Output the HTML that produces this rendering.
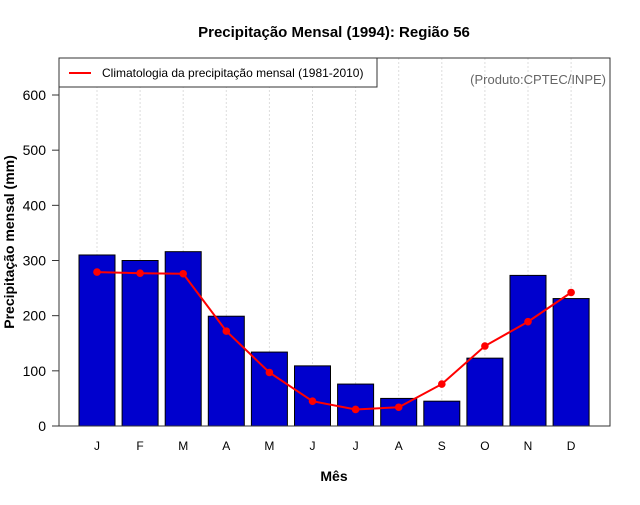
<!DOCTYPE html>
<html><head><meta charset="utf-8"><style>
body{margin:0;background:#fff;font-family:"Liberation Sans",sans-serif}
</style></head><body>
<svg id="c" width="640" height="500" xmlns="http://www.w3.org/2000/svg" font-family="Liberation Sans, sans-serif">
<text x="334" y="37" text-anchor="middle" font-size="15" font-weight="bold">Precipitação Mensal (1994): Região 56</text>
<g id="grid"></g>
<g id="bars"></g>
<g id="line"></g>
<rect x="59" y="58" width="551" height="368" fill="none" stroke="#333" stroke-width="1"/>
<g id="yax"></g><g id="xax"></g>
<text x="14" y="242" transform="rotate(-90 14 242)" text-anchor="middle" font-size="14" font-weight="bold">Precipitação mensal (mm)</text>
<text x="334" y="481" text-anchor="middle" font-size="14" font-weight="bold">Mês</text>
<g>
<rect x="59" y="58" width="318" height="29" fill="#fff" stroke="#333"/>
<line x1="69" y1="73" x2="91" y2="73" stroke="red" stroke-width="2"/>
<text x="102" y="77" font-size="12">Climatologia da precipitação mensal (1981-2010)</text>
</g>
<text x="606" y="84" text-anchor="end" font-size="13" fill="#666">(Produto:CPTEC/INPE)</text>
</svg>
<script>
const months=["J","F","M","A","M","J","J","A","S","O","N","D"];
const precip=[310,300,316,199,134,109,76,50,45,123,273,231];
const clim=[279,277,276,172,97,45,30,34,76,145,189,242];
const yTicks=[0,100,200,300,400,500,600];
const NS="http://www.w3.org/2000/svg";
const X=i=>97+i*43.1;
const Y=v=>426-v*331/600;
function mk(t,a,p){const e=document.createElementNS(NS,t);for(const k in a)e.setAttribute(k,a[k]);p.appendChild(e);return e;}
const g=document.getElementById('grid'),b=document.getElementById('bars'),l=document.getElementById('line'),ya=document.getElementById('yax'),xa=document.getElementById('xax');
months.forEach((m,i)=>{
 const gl=mk('line',{x1:X(i),x2:X(i),y1:58,y2:426,stroke:'#ddd','stroke-dasharray':'2,2'},g);
 
 
 const r=mk('rect',{x:X(i)-18,y:Y(precip[i]),width:36,height:Y(0)-Y(precip[i]),fill:'#0000cd',stroke:'#000','stroke-width':1},b);
 
 
 const t=mk('text',{x:X(i),y:450,'text-anchor':'middle','font-size':12},xa);t.textContent=m;
 
 
});
const pl=mk('polyline',{points:clim.map((v,i)=>X(i)+','+Y(v)).join(' '),fill:'none',stroke:'red','stroke-width':2},l);


clim.forEach((v,i)=>{const c=mk('circle',{cx:X(i),cy:Y(v),r:3.8,fill:'red'},l);
 
 });
mk('line',{x1:59,x2:59,y1:Y(0),y2:Y(600),stroke:'#333'},ya);
yTicks.forEach(v=>{mk('line',{x1:52,x2:59,y1:Y(v),y2:Y(v),stroke:'#333'},ya);
 const t=mk('text',{x:46,y:Y(v)+5,'text-anchor':'end','font-size':14},ya);t.textContent=v;
 
 });
</script>
</body></html>
